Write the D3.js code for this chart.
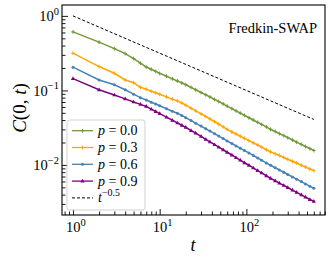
<!DOCTYPE html>
<html>
<head>
<meta charset="utf-8">
<title>Fredkin-SWAP C(0,t)</title>
<style>
  body { margin: 0; background: #fff; }
  svg { display: block; }
  text { font-family: "Liberation Serif", "DejaVu Serif", serif; fill: #000; }
  .axis path { display: none; }
  .axis line { stroke: #000; stroke-width: 0.9; }
</style>
</head>
<body>
<div id="chart"></div>
<script src="https://cdn.jsdelivr.net/npm/d3@7"></script>
<script>
// time points and correlator values
var times = [1,2,3,4,5,6,7,8,9,10,12,14,16,18,20,23,26,30,34,38,43,48,54,60,68,76,85,95,107,120,135,150,170,190,215,240,270,300,340,380,430,480,540,600];

var p00 = [0.61,0.444,0.364,0.312,0.268,0.232,0.206,0.192,0.180,0.169,0.155,0.143,0.134,0.126,0.119,0.110,0.102,0.0938,0.0873,0.0818,0.0757,0.0710,0.0659,0.0615,0.0570,0.0532,0.0496,0.0463,0.0430,0.0401,0.0373,0.0350,0.0324,0.0301,0.0281,0.0263,0.0247,0.0232,0.0216,0.0202,0.0189,0.0177,0.0166,0.0156];
var p03 = [0.316,0.209,0.170,0.138,0.127,0.110,0.104,0.0976,0.0929,0.0887,0.0818,0.0764,0.0723,0.0679,0.0633,0.0577,0.0532,0.0485,0.0447,0.0414,0.0380,0.0352,0.0324,0.0301,0.0277,0.0260,0.0243,0.0227,0.0212,0.0198,0.0185,0.0173,0.0160,0.0150,0.0141,0.0134,0.0126,0.0119,0.0112,0.0106,0.00993,0.00940,0.00883,0.00838];
var p06 = [0.205,0.138,0.119,0.102,0.089,0.080,0.0745,0.0695,0.0656,0.0623,0.0568,0.0526,0.0493,0.0462,0.0431,0.0394,0.0364,0.0332,0.0306,0.0285,0.0263,0.0244,0.0226,0.0210,0.0194,0.0180,0.0168,0.0156,0.0145,0.0134,0.0124,0.0116,0.0106,0.00991,0.00917,0.00857,0.00798,0.00745,0.00690,0.00644,0.00598,0.00557,0.00519,0.00486];
var p09 = [0.144,0.102,0.087,0.077,0.070,0.0649,0.0610,0.0560,0.0521,0.0489,0.0437,0.0398,0.0366,0.0341,0.0320,0.0290,0.0267,0.0242,0.0221,0.0204,0.0187,0.0173,0.0160,0.0148,0.0136,0.0125,0.0116,0.0107,0.00991,0.00912,0.00841,0.00781,0.00716,0.00662,0.00614,0.00571,0.00531,0.00498,0.00459,0.00429,0.00397,0.00370,0.00344,0.00324];

// guide line t^-0.5, end points
var refT = [1, 600];
var refC = [1.0, 0.0408];

var labels = ["0.0", "0.3", "0.6", "0.9"];
var colors = ["#6f9a35", "#ffa500", "#4682b4", "#800080"];
var markers = ["plus", "plus", "dot", "tri"];

var width = 332, height = 261;
var mLeft = 62, mRight = 325, mTop = 5, mBottom = 215;

var svg = d3.select("#chart").append("svg")
    .attr("width", width)
    .attr("height", height);

var x = d3.scaleLog().domain([0.747, 807]).range([mLeft, mRight]);
var y = d3.scaleLog().domain([0.00213, 1.4]).range([mBottom, mTop]);

var isMajor = function(v) { return Math.abs(Math.log10(v) - Math.round(Math.log10(v))) < 1e-9; };
var xt = x.ticks(), yt = y.ticks();

svg.append("clipPath").attr("id", "clip")
  .append("rect").attr("x", mLeft).attr("y", mTop).attr("width", mRight - mLeft).attr("height", mBottom - mTop);

// ticks, pointing inward
svg.append("g").attr("class", "axis").attr("transform", "translate(0," + mBottom + ")")
  .call(d3.axisBottom(x).tickValues(xt.filter(isMajor)).tickSize(-6).tickFormat(""));
svg.append("g").attr("class", "axis").attr("transform", "translate(0," + mBottom + ")")
  .call(d3.axisBottom(x).tickValues(xt.filter(function(v) { return !isMajor(v); })).tickSize(-3.5).tickFormat(""));
svg.append("g").attr("class", "axis").attr("transform", "translate(" + mLeft + ",0)")
  .call(d3.axisLeft(y).tickValues(yt.filter(isMajor)).tickSize(-6).tickFormat(""));
svg.append("g").attr("class", "axis").attr("transform", "translate(" + mLeft + ",0)")
  .call(d3.axisLeft(y).tickValues(yt.filter(function(v) { return !isMajor(v); })).tickSize(-3.5).tickFormat(""));

// tick labels 10^k
function powLabel(sel, k) {
  sel.append("tspan").text("10");
  sel.append("tspan").attr("dy", -6.5).attr("font-size", "10.5px").text(k < 0 ? "\u2212" + (-k) : k);
}
xt.filter(isMajor).forEach(function(v) {
  var k = Math.round(Math.log10(v));
  var tx = svg.append("text").attr("x", x(v) + 3).attr("y", 232).attr("font-size", "14.5px").attr("text-anchor", "middle");
  powLabel(tx, k);
});
yt.filter(isMajor).forEach(function(v) {
  var k = Math.round(Math.log10(v));
  var ty = svg.append("text").attr("x", 59).attr("y", y(v) + 5.5).attr("font-size", "14.5px").attr("text-anchor", "end");
  powLabel(ty, k);
});

var plot = svg.append("g").attr("clip-path", "url(#clip)");

var line = d3.line().x(function(d) { return x(d[0]); }).y(function(d) { return y(d[1]); });

function drawMarker(g, kind, cx, cy, col) {
  if (kind === "plus") {
    g.append("path").attr("d", "M" + (cx - 1.8) + "," + cy + "h3.6M" + cx + "," + (cy - 1.9) + "v3.8")
      .attr("stroke", col).attr("stroke-width", 1).attr("fill", "none");
  } else if (kind === "dot") {
    g.append("circle").attr("cx", cx).attr("cy", cy).attr("r", 1.5).attr("fill", col);
  } else {
    g.append("path").attr("d", "M" + cx + "," + (cy - 2.3) + "L" + (cx + 2.1) + "," + (cy + 1.4) + "L" + (cx - 2.1) + "," + (cy + 1.4) + "Z")
      .attr("fill", col);
  }
}

[p00, p03, p06, p09].forEach(function(vals, i) {
  var pts = times.map(function(t, j) { return [t, vals[j]]; });
  plot.append("path").datum(pts).attr("d", line)
    .attr("fill", "none").attr("stroke", colors[i]).attr("stroke-width", 1.5);
  var mg = plot.append("g");
  pts.forEach(function(d) { drawMarker(mg, markers[i], x(d[0]), y(d[1]), colors[i]); });
});

plot.append("path").datum(refT.map(function(t, j) { return [t, refC[j]]; })).attr("d", line)
  .attr("fill", "none").attr("stroke", "#000").attr("stroke-width", 1).attr("stroke-dasharray", "3,2");

// frame
svg.append("rect").attr("x", mLeft).attr("y", mTop).attr("width", mRight - mLeft).attr("height", mBottom - mTop)
  .attr("fill", "none").attr("stroke", "#000").attr("stroke-width", 1.1);

// legend
var lg = svg.append("g");
lg.append("rect").attr("x", 67).attr("y", 120).attr("width", 78).attr("height", 90).attr("rx", 2.5)
  .attr("fill", "#fff").attr("fill-opacity", 0.8).attr("stroke", "#cccccc").attr("stroke-width", 0.9);
labels.forEach(function(lab, i) {
  var ly = 130.7 + i * 16.8;
  lg.append("line").attr("x1", 72).attr("x2", 93).attr("y1", ly).attr("y2", ly)
    .attr("stroke", colors[i]).attr("stroke-width", 1.3);
  drawMarker(lg, markers[i], 82.5, ly, colors[i]);
  var tx = lg.append("text").attr("x", 98).attr("y", ly + 4.5).attr("font-size", "14px");
  tx.append("tspan").attr("font-style", "italic").text("p");
  tx.append("tspan").text(" = " + lab);
});
var ry = 130.7 + 4 * 16.8;
lg.append("line").attr("x1", 72).attr("x2", 93).attr("y1", ry).attr("y2", ry)
  .attr("stroke", "#000").attr("stroke-width", 1).attr("stroke-dasharray", "3,2");
var rt = lg.append("text").attr("x", 98).attr("y", ry + 4.5).attr("font-size", "14px");
rt.append("tspan").attr("font-style", "italic").text("t");
rt.append("tspan").attr("dy", -6).attr("font-size", "10px").text("\u22120.5");

// annotation and axis titles
svg.append("text").attr("x", 317).attr("y", 33).attr("text-anchor", "end").attr("font-size", "14.5px").text("Fredkin-SWAP");

svg.append("text").attr("x", 193).attr("y", 251).attr("text-anchor", "middle")
  .attr("font-size", "18px").attr("font-style", "italic").text("t");

var yl = svg.append("text").attr("transform", "translate(26,108) rotate(-90)")
  .attr("text-anchor", "middle").attr("font-size", "19px");
yl.append("tspan").attr("font-style", "italic").text("C");
yl.append("tspan").text("(0, ");
yl.append("tspan").attr("font-style", "italic").text("t");
yl.append("tspan").text(")");
</script>
</body>
</html>
